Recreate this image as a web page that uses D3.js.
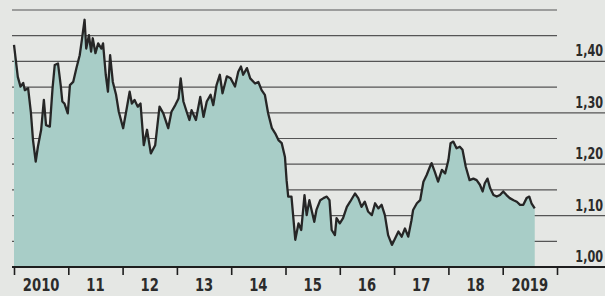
<!DOCTYPE html>
<html>
<head>
<meta charset="utf-8">
<script src="https://cdn.jsdelivr.net/npm/d3@7"></script>
<style>
  html, body { margin: 0; padding: 0; background: #e5e7e4; }
  svg { display: block; }
  .lbl { font-family: "Liberation Sans Narrow", "DejaVu Sans Condensed", "Arial Narrow", sans-serif; font-stretch: condensed; font-weight: bold; fill: #2b2b2b; }
</style>
</head>
<body>
<svg id="chart"></svg>
<script>
const width = 605;
const height = 296;

// EUR/USD (decimal year, rate)
const years = [
  2010.00, 2010.07, 2010.12, 2010.17, 2010.20, 2010.26, 2010.31, 2010.35, 2010.40, 2010.44,
  2010.50, 2010.55, 2010.59, 2010.66, 2010.71, 2010.75, 2010.81, 2010.86, 2010.89, 2010.93,
  2010.99, 2011.03, 2011.09, 2011.15, 2011.21, 2011.25, 2011.30, 2011.33, 2011.38, 2011.42,
  2011.45, 2011.50, 2011.55, 2011.61, 2011.64, 2011.69, 2011.73, 2011.77, 2011.82, 2011.88,
  2011.93, 2012.01, 2012.07, 2012.13, 2012.17, 2012.22, 2012.28, 2012.33, 2012.39, 2012.45,
  2012.52, 2012.60, 2012.68, 2012.75, 2012.84, 2012.90, 2012.97, 2013.03, 2013.07, 2013.12,
  2013.18, 2013.23, 2013.27, 2013.35, 2013.43, 2013.49, 2013.55, 2013.62, 2013.67, 2013.73,
  2013.79, 2013.84, 2013.92, 2013.99, 2014.07, 2014.13, 2014.18, 2014.22, 2014.29, 2014.35,
  2014.44, 2014.50, 2014.56, 2014.62, 2014.68, 2014.75, 2014.81, 2014.87, 2014.93, 2014.99,
  2015.02, 2015.05, 2015.11, 2015.18, 2015.24, 2015.29, 2015.35, 2015.39, 2015.44, 2015.48,
  2015.53, 2015.57, 2015.64, 2015.70, 2015.76, 2015.81, 2015.85, 2015.91, 2015.94, 2016.00,
  2016.06, 2016.13, 2016.19, 2016.28, 2016.34, 2016.40, 2016.46, 2016.52, 2016.59, 2016.65,
  2016.71, 2016.77, 2016.83, 2016.89, 2016.96, 2017.02, 2017.08, 2017.14, 2017.20, 2017.26,
  2017.32, 2017.35, 2017.42, 2017.48, 2017.54, 2017.60, 2017.66, 2017.69, 2017.75, 2017.81,
  2017.88, 2017.94, 2018.00, 2018.04, 2018.09, 2018.15, 2018.21, 2018.26, 2018.32, 2018.39,
  2018.46, 2018.52, 2018.58, 2018.63, 2018.67, 2018.72, 2018.77, 2018.83, 2018.89, 2018.95,
  2019.01, 2019.07, 2019.13, 2019.20, 2019.26, 2019.32, 2019.38, 2019.44, 2019.49, 2019.53,
  2019.59
];
const rates = [
  1.432, 1.370, 1.351, 1.358, 1.344, 1.348, 1.302, 1.247, 1.205, 1.234,
  1.267, 1.325, 1.276, 1.273, 1.348, 1.393, 1.396, 1.354, 1.322, 1.318,
  1.299, 1.354, 1.360, 1.387, 1.412, 1.442, 1.481, 1.425, 1.451, 1.419,
  1.445, 1.416, 1.435, 1.425, 1.435, 1.374, 1.341, 1.412, 1.360, 1.335,
  1.302, 1.270, 1.305, 1.341, 1.318, 1.325, 1.312, 1.318, 1.237, 1.267,
  1.221, 1.237, 1.312, 1.299, 1.270, 1.302, 1.315, 1.328, 1.367, 1.322,
  1.302, 1.286, 1.305, 1.286, 1.331, 1.292, 1.322, 1.335, 1.315, 1.354,
  1.374, 1.338, 1.371, 1.367, 1.351, 1.380, 1.390, 1.374, 1.387, 1.367,
  1.357, 1.360, 1.344, 1.335, 1.299, 1.270, 1.260, 1.247, 1.241, 1.214,
  1.169, 1.137, 1.137, 1.053, 1.085, 1.072, 1.140, 1.101, 1.130, 1.111,
  1.088, 1.111, 1.130, 1.134, 1.137, 1.130, 1.072, 1.062, 1.095, 1.085,
  1.095, 1.117, 1.127, 1.143, 1.134, 1.117, 1.127, 1.108, 1.101, 1.124,
  1.114, 1.121, 1.101, 1.062, 1.043, 1.056, 1.069, 1.059, 1.075, 1.059,
  1.091, 1.111, 1.124, 1.130, 1.166, 1.179, 1.195, 1.202, 1.185, 1.166,
  1.189, 1.182, 1.208, 1.241, 1.244, 1.231, 1.234, 1.228, 1.195, 1.169,
  1.172, 1.169, 1.160, 1.147, 1.163, 1.172, 1.153, 1.140, 1.137, 1.140,
  1.147, 1.140, 1.134, 1.130, 1.127, 1.121, 1.121, 1.134, 1.137, 1.124,
  1.114
];

const yearTicks = [2010, 2011, 2012, 2013, 2014, 2015, 2016, 2017, 2018, 2019, 2020];
const yearLabels = ["2010", "11", "12", "13", "14", "15", "16", "17", "18", "2019"];
const gridValues = [1.00, 1.05, 1.10, 1.15, 1.20, 1.25, 1.30, 1.35, 1.40, 1.45, 1.50];
const rateLabels = ["1,00", "1,10", "1,20", "1,30", "1,40"];

const data = years.map((y, i) => ({ year: y, rate: rates[i] }));

const svg = d3.select("#chart")
              .attr("width", width)
              .attr("height", height);

const x = d3.scaleLinear().domain([2010, 2020]).range([14, 557]);
const y = d3.scaleLinear().domain([1.0, 1.5]).range([267, 10]);

// gridlines: labelled ones run to the right edge
const labelled = v => Math.round(v * 100) % 10 === 0 && v < 1.45;
svg.append("g")
   .selectAll("line")
   .data(gridValues.filter(v => v > 1.0))
   .enter()
   .append("line")
   .attr("x1", 12)
   .attr("x2", d => labelled(d) ? width : x(2020))
   .attr("y1", d => y(d))
   .attr("y2", d => y(d))
   .attr("stroke", "#555")
   .attr("stroke-width", 1.2);

// area + line
const area = d3.area()
               .x(d => x(d.year))
               .y0(y(1.0))
               .y1(d => y(d.rate));
svg.append("path")
   .datum(data)
   .attr("d", area)
   .attr("fill", "#a8cdc7");

const line = d3.line()
               .x(d => x(d.year))
               .y(d => y(d.rate));
svg.append("path")
   .datum(data)
   .attr("d", line)
   .attr("fill", "none")
   .attr("stroke", "#262626")
   .attr("stroke-width", 2.3)
   .attr("stroke-linejoin", "round");

// base line (1,00)
svg.append("line")
   .attr("x1", 12)
   .attr("x2", width)
   .attr("y1", y(1.0))
   .attr("y2", y(1.0))
   .attr("stroke", "#1e1e1e")
   .attr("stroke-width", 2);

// year ticks
const xAxis = d3.axisBottom(x)
                .tickValues(yearTicks)
                .tickSize(8)
                .tickFormat("");
const gx = svg.append("g")
              .attr("transform", `translate(0, ${y(1.0)})`)
              .call(xAxis);
gx.select(".domain").remove();
gx.selectAll(".tick line").attr("stroke", "#1e1e1e").attr("stroke-width", 1.6);

// year labels, centred in each year (squeezed like the condensed print face)
svg.append("g")
   .selectAll("text")
   .data(yearLabels)
   .enter()
   .append("text")
   .attr("class", "lbl")
   .attr("transform", (d, i) => `translate(${x(2010.5 + i)}, 291) scale(0.86, 1)`)
   .attr("text-anchor", "middle")
   .style("font-size", "17px")
   .text(d => d);

// rate labels above their lines, right aligned
svg.append("g")
   .selectAll("text")
   .data(rateLabels)
   .enter()
   .append("text")
   .attr("class", "lbl")
   .attr("transform", (d, i) => `translate(603, ${y(1.0 + i * 0.1) - 5}) scale(0.78, 1)`)
   .attr("text-anchor", "end")
   .style("font-size", "16px")
   .text(d => d);
</script>
</body>
</html>
